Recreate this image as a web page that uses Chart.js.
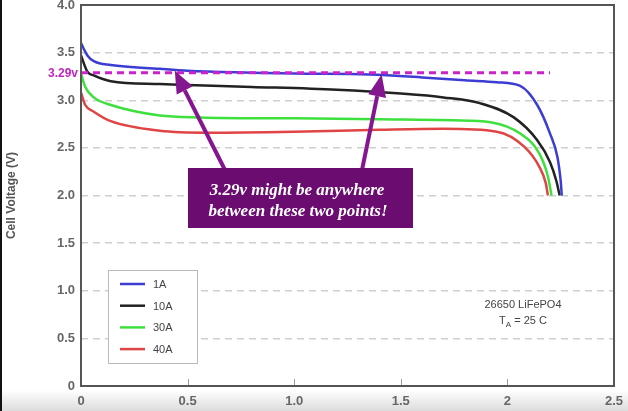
<!DOCTYPE html>
<html>
<head>
<meta charset="utf-8">
<script src="https://cdn.jsdelivr.net/npm/chart.js@4/dist/chart.umd.min.js"></script>
<style>
  html, body { margin: 0; padding: 0; background: #fff; }
  #wrap {
    position: relative; width: 628px; height: 411px;
    background: linear-gradient(to bottom, #fff 0, #fff 390px, #dcdcdc 411px);
  }
  #wrap::before {
    content: ''; position: absolute; left: 0; top: 0; width: 2px; height: 411px; background: #111;
  }
  canvas { position: absolute; left: 0; top: 0; }
</style>
</head>
<body>
<div id="wrap"><canvas id="chart" width="628" height="411"></canvas></div>
<script>
// Discharge curves, 26650 LiFePO4 — x = capacity (Ah), y = cell voltage (V)
const seriesNames = ['1A', '10A', '30A', '40A'];
const seriesColors = ['#3d3dd4', '#222222', '#3ee03e', '#e04444'];

const cap1A  = [0, 0.03, 0.06, 0.14, 0.37, 0.5, 0.8, 1.0, 1.35, 1.6, 1.8, 1.95, 2.06, 2.14, 2.2, 2.235, 2.25, 2.255];
const volt1A = [3.60, 3.47, 3.41, 3.37, 3.33, 3.31, 3.29, 3.28, 3.27, 3.24, 3.21, 3.19, 3.15, 2.95, 2.65, 2.40, 2.15, 2.00];

const cap10A  = [0, 0.03, 0.06, 0.14, 0.37, 0.5, 0.8, 1.2, 1.5, 1.7, 1.87, 2.03, 2.14, 2.2, 2.23, 2.245];
const volt10A = [3.47, 3.30, 3.26, 3.20, 3.17, 3.16, 3.14, 3.11, 3.07, 3.03, 2.97, 2.82, 2.58, 2.35, 2.15, 2.00];

const cap30A  = [0, 0.02, 0.06, 0.14, 0.37, 0.56, 1.0, 1.4, 1.75, 1.92, 2.06, 2.15, 2.19, 2.207];
const volt30A = [3.28, 3.14, 3.03, 2.95, 2.84, 2.82, 2.81, 2.80, 2.79, 2.77, 2.65, 2.44, 2.20, 2.00];

const cap40A  = [0, 0.02, 0.06, 0.14, 0.37, 0.6, 1.0, 1.4, 1.7, 1.95, 2.08, 2.15, 2.18, 2.19];
const volt40A = [3.08, 2.95, 2.88, 2.78, 2.68, 2.66, 2.67, 2.69, 2.70, 2.67, 2.51, 2.30, 2.13, 2.00];

// the 3.29 V marker line
const markerVolt = 3.29;
const markerCap = [0, 2.2];

const xTicks = [0, 0.5, 1.0, 1.5, 2, 2.5];
const xTickLabels = ['0', '0.5', '1.0', '1.5', '2', '2.5'];
const yTickLabels = ['0', '0.5', '1.0', '1.5', '2.0', '2.5', '3.0', '3.5', '4.0'];

// arrows point at these (cap, volt) spots on the marker line
const arrowTips = [[0.44, 3.31], [1.41, 3.27]];

function pts(xs, ys) {
    return xs.map((x, i) => ({ x: x, y: ys[i] }));
}

const curves = [[cap1A, volt1A], [cap10A, volt10A], [cap30A, volt30A], [cap40A, volt40A]];

const datasets = [{
    label: '3.29v',
    data: markerCap.map(x => ({ x: x, y: markerVolt })),
    borderColor: '#cc22cc',
    borderWidth: 3,
    borderDash: [7, 5],
    pointRadius: 0,
    order: 0
}];
curves.forEach((c, i) => {
    datasets.push({
        label: seriesNames[i],
        data: pts(c[0], c[1]),
        borderColor: seriesColors[i],
        borderWidth: 2.5,
        pointRadius: 0,
        cubicInterpolationMode: 'monotone',
        order: i + 1
    });
});

const TICK_FONT = { family: 'Liberation Sans, Arial', size: 13, weight: 'bold' };

function arrow(ctx, x0, y0, x1, y1) {
    const a = Math.atan2(y1 - y0, x1 - x0);
    const hl = 22, hw = 9;
    const bx = x1 - Math.cos(a) * hl, by = y1 - Math.sin(a) * hl;
    ctx.beginPath();
    ctx.moveTo(x0, y0);
    ctx.lineTo(bx, by);
    ctx.lineWidth = 4;
    ctx.strokeStyle = '#84168f';
    ctx.stroke();
    ctx.beginPath();
    ctx.moveTo(x1, y1);
    ctx.lineTo(bx + Math.sin(a) * hw, by - Math.cos(a) * hw);
    ctx.lineTo(bx - Math.sin(a) * hw, by + Math.cos(a) * hw);
    ctx.closePath();
    ctx.fillStyle = '#84168f';
    ctx.fill();
}

const decor = {
    id: 'decor',
    afterDraw(chart) {
        const ctx = chart.ctx;
        const a = chart.chartArea;
        const xs = chart.scales.x, ys = chart.scales.y;
        ctx.save();

        // inside tick marks on bottom axis
        ctx.strokeStyle = '#999';
        ctx.lineWidth = 1;
        xTicks.slice(1, -1).forEach(v => {
            const px = Math.round(xs.getPixelForValue(v)) + 0.5;
            ctx.beginPath();
            ctx.moveTo(px, a.bottom);
            ctx.lineTo(px, a.bottom - 7);
            ctx.stroke();
        });

        // frame
        ctx.strokeStyle = '#555';
        ctx.lineWidth = 2;
        ctx.strokeRect(a.left, a.top, a.right - a.left, a.bottom - a.top);

        // 3.29v label
        ctx.fillStyle = '#c026c0';
        ctx.font = 'bold 12px Liberation Sans, Arial';
        ctx.textAlign = 'right';
        ctx.textBaseline = 'middle';
        ctx.fillText('3.29v', a.left - 3, ys.getPixelForValue(markerVolt) + 1);

        // legend
        const lx = a.left + 27, ly = a.bottom - 116;
        ctx.fillStyle = '#fff';
        ctx.fillRect(lx, ly, 89, 93);
        ctx.strokeStyle = '#bbb';
        ctx.lineWidth = 1;
        ctx.strokeRect(lx + 0.5, ly + 0.5, 89, 93);
        ctx.font = '11px Liberation Sans, Arial';
        ctx.textAlign = 'left';
        seriesNames.forEach((n, i) => {
            const yy = ly + 14 + i * 21.7;
            ctx.beginPath();
            ctx.moveTo(lx + 12, yy);
            ctx.lineTo(lx + 37, yy);
            ctx.strokeStyle = seriesColors[i];
            ctx.lineWidth = 2.5;
            ctx.stroke();
            ctx.fillStyle = '#444';
            ctx.fillText(n, lx + 45, yy + 1);
        });

        // chemistry note
        const nx = 523;
        ctx.fillStyle = '#444';
        ctx.font = '11px Liberation Sans, Arial';
        ctx.textAlign = 'center';
        ctx.fillText('26650 LiFePO4', nx, 305);
        ctx.textAlign = 'left';
        const t1 = 'T', t2 = 'A', t3 = ' = 25 C';
        ctx.font = '11px Liberation Sans, Arial';
        const w1 = ctx.measureText(t1).width, w3 = ctx.measureText(t3).width;
        ctx.font = '8px Liberation Sans, Arial';
        const w2 = ctx.measureText(t2).width;
        let sx = nx - (w1 + w2 + w3) / 2;
        ctx.font = '11px Liberation Sans, Arial';
        ctx.fillText(t1, sx, 321);
        ctx.font = '8px Liberation Sans, Arial';
        ctx.fillText(t2, sx + w1, 325);
        ctx.font = '11px Liberation Sans, Arial';
        ctx.fillText(t3, sx + w1 + w2, 321);

        // arrows
        arrow(ctx, 225, 170, xs.getPixelForValue(arrowTips[0][0]), ys.getPixelForValue(arrowTips[0][1]));
        arrow(ctx, 362, 170, xs.getPixelForValue(arrowTips[1][0]), ys.getPixelForValue(arrowTips[1][1]));

        // callout box
        ctx.fillStyle = '#6a0c70';
        ctx.fillRect(188, 168, 225, 60);
        ctx.fillStyle = '#fff';
        ctx.font = 'italic bold 17px Liberation Serif, serif';
        ctx.textAlign = 'center';
        ctx.textBaseline = 'alphabetic';
        ctx.fillText('3.29v might be anywhere', 297, 195);
        ctx.fillText('between these two points!', 298, 216);

        ctx.restore();
    }
};

new Chart(document.getElementById('chart'), {
    type: 'line',
    data: { datasets: datasets },
    options: {
        responsive: false,
        animation: false,
        layout: { padding: { left: 0, top: 5, right: 14, bottom: 0 } },
        plugins: { legend: { display: false }, tooltip: { enabled: false } },
        scales: {
            x: {
                type: 'linear',
                min: 0, max: 2.5,
                afterFit: s => { s.height = 25; s.paddingLeft = 0; s.paddingRight = 0; },
                afterBuildTicks: s => { s.ticks = xTicks.map(v => ({ value: v })); },
                grid: { display: false, drawTicks: false },
                border: { display: false },
                ticks: {
                    color: '#666', font: TICK_FONT, padding: 8, maxRotation: 0,
                    callback: v => xTickLabels[xTicks.indexOf(v)]
                }
            },
            y: {
                min: 0, max: 4,
                afterFit: s => { s.width = 81; s.paddingTop = 0; s.paddingBottom = 0; },
                grid: { color: '#cfcfcf', lineWidth: 1.5, drawTicks: false },
                border: { display: false, dash: [7, 5] },
                ticks: {
                    stepSize: 0.5, color: '#666', font: TICK_FONT, padding: 6,
                    callback: v => yTickLabels[Math.round(v * 2)]
                },
                title: {
                    display: true, text: 'Cell Voltage (V)', color: '#555',
                    font: { family: 'Liberation Sans, Arial', size: 12, weight: 'bold' },
                    padding: { top: 4, bottom: 0 }
                }
            }
        }
    },
    plugins: [decor]
});
</script>
</body>
</html>
